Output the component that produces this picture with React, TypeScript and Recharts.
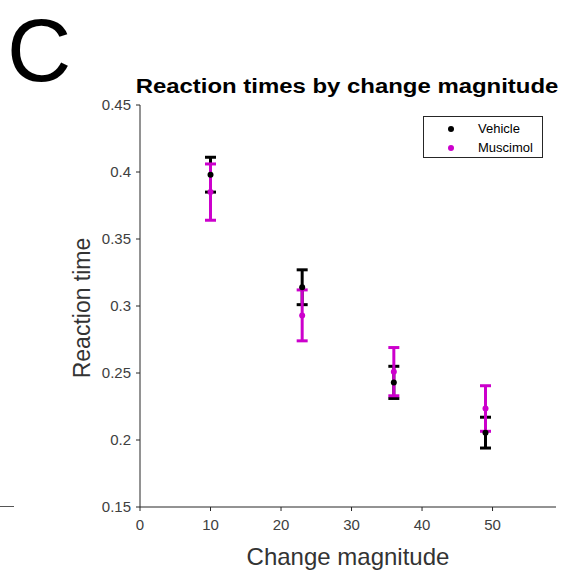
import { ScatterChart, Scatter, XAxis, YAxis, ErrorBar } from "recharts";

const changeMagnitude = [10, 23, 36, 49];
const vehicleMean = [0.398, 0.314, 0.243, 0.2055];
const vehicleErr = [0.013, 0.013, 0.012, 0.0115];
const muscimolMean = [0.385, 0.293, 0.251, 0.2235];
const muscimolErr = [0.021, 0.019, 0.018, 0.017];
const xTicks = [0, 10, 20, 30, 40, 50];
const yTicks = [0.15, 0.2, 0.25, 0.3, 0.35, 0.4, 0.45];

const series = [
  { name: "Vehicle", color: "#000000", mean: vehicleMean, err: vehicleErr },
  { name: "Muscimol", color: "#cc00cc", mean: muscimolMean, err: muscimolErr },
];

const FONT = "'Liberation Sans', Arial, sans-serif";
const AXIS = "#262626";
const TICK = "#404040";

const Dot = (props: any) => {
  const { cx, cy, fill } = props;
  if (cx == null || cy == null) return null;
  return <circle cx={cx} cy={cy} r={3} fill={fill} />;
};

const YLabel = (props: any) => {
  const { viewBox } = props;
  const x = viewBox.x + 10;
  const y = viewBox.y + viewBox.height / 2 + 2;
  return (
    <text
      x={x}
      y={y}
      transform={`rotate(-90, ${x}, ${y})`}
      textAnchor="middle"
      fontSize={23}
      fill="#333"
      fontFamily={FONT}
    >
      Reaction time
    </text>
  );
};

const XLabel = (props: any) => {
  const { viewBox } = props;
  return (
    <text
      x={viewBox.x + viewBox.width / 2}
      y={viewBox.y + 58}
      textAnchor="middle"
      fontSize={24}
      fill="#333"
      fontFamily={FONT}
    >
      Change magnitude
    </text>
  );
};

export default function App() {
  return (
    <div
      style={{
        position: "absolute",
        left: 0,
        top: 0,
        width: 564,
        height: 575,
        background: "#fff",
        fontFamily: FONT,
      }}
    >
      <svg
        width={564}
        height={100}
        style={{ position: "absolute", left: 0, top: 0 }}
      >
        <text x={7} y={81} fontSize={89} fontFamily={FONT} fill="#000">
          C
        </text>
        <text
          x={347}
          y={93}
          textAnchor="middle"
          fontSize={21}
          fontWeight="bold"
          fontFamily={FONT}
          fill="#000"
          transform="translate(347 0) scale(1.14 1) translate(-347 0)"
        >
          Reaction times by change magnitude
        </text>
      </svg>
      <div
        style={{
          position: "absolute",
          left: 0,
          top: 506,
          width: 14,
          height: 1,
          background: "#555",
        }}
      />
      <ScatterChart
        width={564}
        height={575}
        margin={{ top: 105, right: 8, bottom: 38, left: 80 }}
        style={{ position: "absolute", left: 0, top: 0 }}
      >
        <XAxis
          type="number"
          dataKey="x"
          domain={[0, 59]}
          ticks={xTicks}
          allowDataOverflow
          stroke={AXIS}
          tickSize={4}
          tickMargin={8}
          tick={{ fill: TICK, fontSize: 15, fontFamily: FONT }}
          height={30}
          label={<XLabel />}
        />
        <YAxis
          type="number"
          dataKey="y"
          domain={[0.15, 0.45]}
          ticks={yTicks}
          allowDataOverflow
          stroke={AXIS}
          tickSize={4}
          tickMargin={5}
          tick={{ fill: TICK, fontSize: 15, fontFamily: FONT }}
          tickFormatter={(v) => String(v)}
          width={60}
          label={<YLabel />}
        />
        {series.map((s) => (
          <Scatter
            key={s.name}
            name={s.name}
            data={changeMagnitude.map((x, i) => ({ x, y: s.mean[i], err: s.err[i] }))}
            fill={s.color}
            shape={<Dot />}
            isAnimationActive={false}
          >
            <ErrorBar
              dataKey="err"
              direction="y"
              width={5.5}
              stroke={s.color}
              strokeWidth={3}
              isAnimationActive={false}
            />
          </Scatter>
        ))}
      </ScatterChart>
      <div
        style={{
          position: "absolute",
          left: 423,
          top: 116,
          width: 120,
          height: 42,
          border: "1px solid #262626",
          boxSizing: "border-box",
          background: "#fff",
          fontSize: 13,
          color: "#000",
        }}
      >
        {series.map((s, i) => (
          <div
            key={s.name}
            style={{
              position: "absolute",
              left: 0,
              top: 3 + i * 19,
              height: 17,
              display: "flex",
              alignItems: "center",
            }}
          >
            <span
              style={{
                display: "inline-block",
                width: 6,
                height: 6,
                borderRadius: 3,
                background: s.color,
                marginLeft: 24,
                marginRight: 24,
              }}
            />
            <span>{s.name}</span>
          </div>
        ))}
      </div>
    </div>
  );
}
